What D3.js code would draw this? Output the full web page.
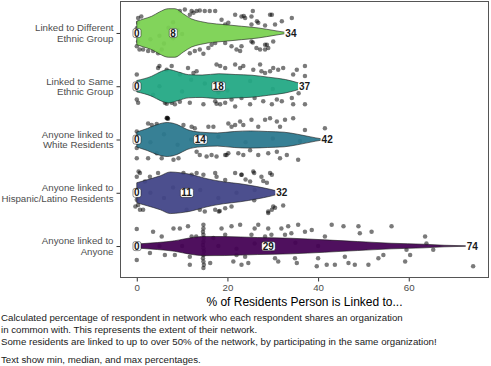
<!DOCTYPE html>
<html><head><meta charset="utf-8">
<script src="https://cdn.jsdelivr.net/npm/d3@7"></script>
<style>
html,body{margin:0;padding:0;background:#fff;}
svg{display:block;font-family:"Liberation Sans",Arial,Helvetica,sans-serif;}
</style></head>
<body><svg id="chart" width="491" height="366"></svg>
<script>
// ---------- data ----------
const categories = ["Different", "Same", "White", "Hispanic", "Anyone"];
const categoryLabels = [
  ["Linked to Different", "Ethnic Group"],
  ["Linked to Same", "Ethnic Group"],
  ["Anyone linked to", "White Residents"],
  ["Anyone linked to", "Hispanic/Latino Residents"],
  ["Anyone linked to", "Anyone"]
];
const colors = ["#7AD151", "#22A884", "#2A788E", "#414487", "#440154"];
const mins    = [0, 0, 0, 0, 0];
const medians = [8, 18, 14, 11, 29];
const maxs    = [34, 37, 42, 32, 74];
const xTicks  = [0, 20, 40, 60];

// violin density profiles (x value, relative density)
const densDifferent = [[0,11.7],[1.5,14],[3.3,16.7],[5,21],[7,24.3],[8.4,24.3],[10.3,19],[12.1,14],[14,11.5],[15.7,10],[19.5,8.3],[23.1,6.7],[26.8,5],[30.5,2.3],[32.3,1],[34,0.3]];
const densSame = [[0,5.7],[3.3,10],[5.5,15],[7,16.7],[9.2,14.2],[11.4,11.6],[14.4,11.2],[18.1,12.5],[21.7,11.7],[25.4,11],[29.1,9],[32.8,6.7],[35.7,3.3],[37,1.5]];
const densWhite = [[0,7.5],[2.3,11],[4.5,15],[6.7,17],[8.9,15],[11.1,10],[14.1,7.3],[17.8,6.6],[21.5,8],[25.1,8.6],[28.8,8],[32.5,7.3],[35.4,5.3],[38.4,2.6],[40.6,0.8],[42,0.3]];
const densHispanic = [[0,10],[2.3,13],[5.2,17],[7.4,20.8],[9.6,20],[11.8,18.5],[15.5,14],[19.1,11],[22.8,9],[26.5,6.2],[29.4,3.5],[30.9,1.8],[32,0.5]];
const densAnyone = [[0,2],[4.6,3.5],[8.3,5.2],[11.9,8.3],[14.9,9.6],[19.3,9.5],[26.6,8.5],[34,7.8],[41.4,6.2],[48.7,4.5],[56.1,2.8],[63.4,1.8],[67.8,0.8],[72.2,0.3],[74,0.2]];
const densities = [densDifferent, densSame, densWhite, densHispanic, densAnyone];

// jittered points: [value, vertical jitter in category units]
const ptsDifferent = [[0.3,-0.28],[1.0,-0.31],[0.3,-0.19],[0,-0.09],[0.3,0.16],[0,0.25],[0.6,0.31],[1.4,0.31],[2.5,0.34],[3.6,0.34],[4.7,0.38],[5.5,0.31],
 [9.5,-0.41],[10.6,-0.44],[11.7,-0.34],[12.1,-0.41],[12.5,-0.38],[13.2,-0.41],[13.9,-0.42],[15.0,-0.41],[16.1,-0.41],[17.3,-0.41],[18.7,-0.25],[19.5,-0.16],[20.2,-0.19],[21.7,-0.34],[23.1,-0.31],[23.9,-0.28],[25.3,-0.31],[26.8,-0.19],[29.4,-0.34],[30.5,-0.16],[32.0,-0.22],[34.2,-0.28],
 [11.7,0.38],[12.8,0.34],[13.9,0.31],[14.7,0.39],[15.8,0.28],[16.5,0.22],[17.3,0.19],[19.5,0.19],[20.9,0.25],[22.0,0.31],[22.8,0.34],[23.1,0.25],[25.3,0.16],[26.4,0.28],[28.3,0.22],[29.0,0.28],[30.1,0.16],
 [23.6,-0.32],[25.6,-0.41],[29.8,-0.34],[25.3,-0.16],[26.5,-0.22],[28.3,-0.14],[25.6,0.18],[28.7,0.22],[27.2,0.31],[28.3,0.31],
 [5,0.05],[7,-0.1],[8,0.1],[9,-0.05],[3,0.12],[6,0.2],[10,0.02],[8,-0.2]];
const ptsSame = [[0,-0.22],[4.7,-0.34],[5.0,-0.38],[6.6,-0.31],[7.7,-0.38],[9.5,-0.22],[11.3,-0.34],[12.5,-0.25],[13.2,-0.28],[17.6,-0.41],[18.4,-0.38],[19.5,-0.34],[21.7,-0.41],[22.8,-0.34],[23.5,-0.38],[25.7,-0.31],[27.2,-0.41],[27.5,-0.28],[28.3,-0.25],[29.4,-0.28],[30.1,-0.34],[31.2,-0.31],[32.3,-0.34],[34.5,-0.22],[35.3,-0.31],[37.1,-0.38],[37.1,-0.19],
 [0,0.25],[0.3,0.31],[3.6,0.16],[6.2,0.31],[6.6,0.33],[7.7,0.31],[8.4,0.34],[9.5,0.29],[11.7,0.31],[14.7,0.34],[17.3,0.28],[17.6,0.33],[18.4,0.34],[19.5,0.31],[20.9,0.25],[21.7,0.38],[23.1,0.22],[25.0,0.34],[26.0,0.22],[27.9,0.28],[29.8,0.34],[30.9,0.25],[32.0,0.28],[34.2,0.22],[34.5,0.34],[35.7,0.13],[37.1,0.34],
 [5,0],[10,0.1],[15,-0.05],[20,0.08],[25,-0.1],[30,0.05],[12,-0.12],[18,0.12]];
const ptsWhite = [[0,-0.15],[2.5,-0.30],[3.3,-0.27],[4.4,-0.29],[6.6,-0.40],[6.7,-0.41],[6.8,-0.40],[6.9,-0.39],[10.3,-0.27],[12.1,-0.24],[12.8,-0.21],[15.8,-0.24],[16.9,-0.24],[20.2,-0.30],[20.9,-0.24],[21.7,-0.27],[22.8,-0.34],[23.5,-0.27],[25.3,-0.37],[26.8,-0.24],[28.3,-0.37],[29.4,-0.40],[30.9,-0.34],[31.6,-0.24],[32.7,-0.37],[34.5,-0.40],[37.1,-0.18],[41.5,-0.21],
 [0,0.16],[0,0.35],[2.5,0.35],[4.4,0.26],[5.5,0.35],[8.1,0.38],[9.2,0.35],[13.2,0.23],[13.9,0.29],[15.4,0.32],[16.5,0.29],[17.6,0.32],[19.5,0.29],[19.8,0.29],[20.2,0.26],[22.4,0.26],[23.5,0.29],[25.0,0.20],[26.8,0.29],[29.0,0.26],[30.9,0.23],[31.6,0.35],[33.1,0.29],[35.6,0.38],
 [3,0.05],[6,-0.1],[9,0.1],[12,0],[18,-0.05],[24,0.05],[30,-0.02],[36,0.03]];
const ptsHispanic = [[0.4,-0.40],[0,-0.30],[0.7,-0.37],[1.8,-0.21],[2.9,-0.30],[4.7,-0.37],[10.3,-0.37],[12.1,-0.34],[13.2,-0.37],[14.7,-0.34],[17.3,-0.37],[17.6,-0.30],[19.5,-0.24],[21.7,-0.37],[23.1,-0.34],[25.0,-0.21],[27.5,-0.30],[29.4,-0.37],
 [0,0.13],[0.3,0.23],[0.7,0.32],[-0.3,0.26],[1.4,0.32],[11.0,0.32],[13.9,0.32],[15.0,0.35],[17.3,0.32],[18.1,0.35],[18.3,0.34],[19.5,0.29],[20.9,0.26],[29.0,0.35],[30.1,0.26],
 [23.1,-0.34],[25.7,-0.40],[25.9,-0.37],[24.0,-0.25],[27.9,-0.22],[28.7,-0.19],[29.8,-0.34],[29.0,0.38],[29.8,0.32],[30.5,0.28],[32.3,0.24],[25.9,0.14],
 [3,0],[6,0.1],[8,-0.1],[10,0.05],[14,-0.05],[18,0.1],[22,0],[26,-0.05]];
const ptsAnyone = [[0,-0.32],[0,0.26],[2.9,0.13],[3.6,-0.27],[5.5,-0.18],[6.2,0.17],[8.1,-0.33],[8.4,0.17],[9.5,-0.33],[11.3,-0.37],[11.7,0.20],[12.1,-0.18],[13.1,-0.18],[11.7,0.35],
 [14.7,-0.40],[14.7,-0.33],[14.6,-0.27],[14.7,-0.21],[14.8,-0.15],[14.7,-0.08],[14.6,-0.02],[14.7,0.04],[14.8,0.10],[14.7,0.17],[14.6,0.23],[14.7,0.29],[14.8,0.35],[14.7,0.41],
 [16.2,0.32],[16.9,-0.15],[18.7,-0.33],[19.5,-0.21],[20.9,-0.37],[21.3,0.29],[22.0,0.17],[22.8,-0.40],[23.1,0.35],[23.9,0.20],[24.6,0.32],[25.3,-0.21],[26.0,-0.33],[26.8,-0.40],[28.3,-0.18],[29.0,-0.33],[29.7,-0.21],[30.5,0.23],[31.2,0.29],[31.9,-0.33],[32.7,-0.21],[33.4,-0.37],[34.1,-0.24],[34.9,0.23],[35.3,0.32],[35.6,-0.40],[37.1,-0.27],[38.6,-0.30],[39.7,0.38],[40.0,0.23],[41.5,-0.18],[41.9,0.35],[43.0,-0.40],[43.7,0.35],[45.6,-0.37],[45.9,0.20],[46.7,0.32],[48.1,0.35],[48.9,-0.37],[49.2,-0.24],[51.1,0.35],[51.8,-0.27],[53.3,0.23],[54.4,0.17],[56.2,-0.37],[59.2,0.29],[59.5,0.07],[60.3,0.17],[63.6,-0.18],[63.9,-0.05],[65.4,0.07],[74.2,0.38],
 [18,0],[22,0.05],[26,-0.05],[30,0.08],[35,-0.06],[40,0],[10,0],[5,0]];
const points = [ptsDifferent, ptsSame, ptsWhite, ptsHispanic, ptsAnyone];

const captionLines = [
  "Calculated percentage of respondent in network who each respondent shares an organization",
  "in common with. This represents the extent of their network.",
  "Some residents are linked to up to over 50% of the network, by participating in the same organization!",
  "",
  "Text show min, median, and max percentages."
];
const xTitle = "% of Residents Person is Linked to...";

// ---------- layout ----------
const svg = d3.select("#chart");
const panel = {left: 120, right: 489, top: 1, bottom: 278};

const x = d3.scaleLinear().domain([-3.7, 77.7]).range([panel.left, panel.right]);
const y = d3.scalePoint().domain(categories).range([panel.top, panel.bottom]).padding(0.6);
const band = y.step();
const w = d3.scaleLinear().domain([0, 24.3]).range([0, 24.3]);

// points (under violins)
const gPts = svg.append("g");
categories.forEach((c, i) => {
  gPts.selectAll(null).data(points[i]).join("circle")
    .attr("cx", d => x(d[0]))
    .attr("cy", d => y(c) + d[1] * band)
    .attr("r", 2.25)
    .attr("fill", "#000")
    .attr("fill-opacity", 0.52);
});

// violins
const gV = svg.append("g");
categories.forEach((c, i) => {
  const area = d3.area()
    .x(d => x(d[0]))
    .y0(d => y(c) - w(d[1]))
    .y1(d => y(c) + w(d[1]))
    .curve(d3.curveMonotoneX);
  gV.append("path").datum(densities[i])
    .attr("d", area)
    .attr("fill", colors[i])
    .attr("fill-opacity", 0.94)
    .attr("stroke", "#1a1a1a")
    .attr("stroke-width", 0.6);
});

// labels (min, median with boxed label; max as plain text on white)
const gL = svg.append("g").attr("font-size", "10px");
categories.forEach((c, i) => {
  [[mins[i], true], [medians[i], true], [maxs[i], false]].forEach(([v, boxed]) => {
    const g = gL.append("g");
    const t = g.append("text")
      .attr("x", x(v)).attr("y", y(c) + 3.6)
      .attr("text-anchor", "middle")
      .attr("fill", "#1a1a1a")
      .attr("font-weight", "bold")
      .text(v);
    const bb = t.node().getBBox();
    g.insert("rect", "text")
      .attr("x", bb.x - 1).attr("y", bb.y + 1)
      .attr("width", bb.width + 2).attr("height", bb.height - 2)
      .attr("rx", 2).attr("fill", "#fff")
      .attr("stroke", boxed ? "#1a1a1a" : "none")
      .attr("stroke-width", 0.5);
  });
});

// panel border
svg.append("rect")
  .attr("x", panel.left + 0.5).attr("y", panel.top + 0.5)
  .attr("width", panel.right - panel.left - 1).attr("height", panel.bottom - panel.top - 1)
  .attr("fill", "none").attr("stroke", "#555").attr("stroke-width", 1);

// y axis
const yAxis = d3.axisLeft(y).tickSize(3.5).tickPadding(4).tickFormat("");
const gy = svg.append("g").attr("transform", `translate(${panel.left},0)`).call(yAxis);
gy.select(".domain").remove();
gy.selectAll(".tick line").attr("stroke", "#333");
categories.forEach((c, i) => {
  const t = svg.append("text")
    .attr("x", 113.5).attr("y", y(c))
    .attr("text-anchor", "end")
    .attr("font-size", "9.7px").attr("fill", "#4d4d4d");
  categoryLabels[i].forEach((line, k) => {
    t.append("tspan").attr("x", 113.5)
      .attr("dy", k === 0 ? "-1.65" : "10.5")
      .text(line);
  });
});

// x axis
const xAxis = d3.axisBottom(x).tickValues(xTicks).tickSize(3.5).tickPadding(2.5);
const gx = svg.append("g").attr("transform", `translate(0,${panel.bottom})`).call(xAxis);
gx.select(".domain").remove();
gx.selectAll(".tick line").attr("stroke", "#333");
gx.selectAll(".tick text").attr("font-size", "9.7px").attr("fill", "#4d4d4d")
  .attr("font-family", "Liberation Sans, Arial, sans-serif");

svg.append("text")
  .attr("x", (panel.left + panel.right) / 2).attr("y", 306)
  .attr("text-anchor", "middle").attr("font-size", "12px").attr("fill", "#000")
  .text(xTitle);

// caption
const capY = [321.3, 332.9, 344.5, 356, 363];
captionLines.forEach((line, k) => {
  if (!line) return;
  svg.append("text")
    .attr("x", 1).attr("y", capY[k])
    .attr("font-size", "9.7px").attr("fill", "#1a1a1a")
    .text(line);
});
</script>
</body></html>
